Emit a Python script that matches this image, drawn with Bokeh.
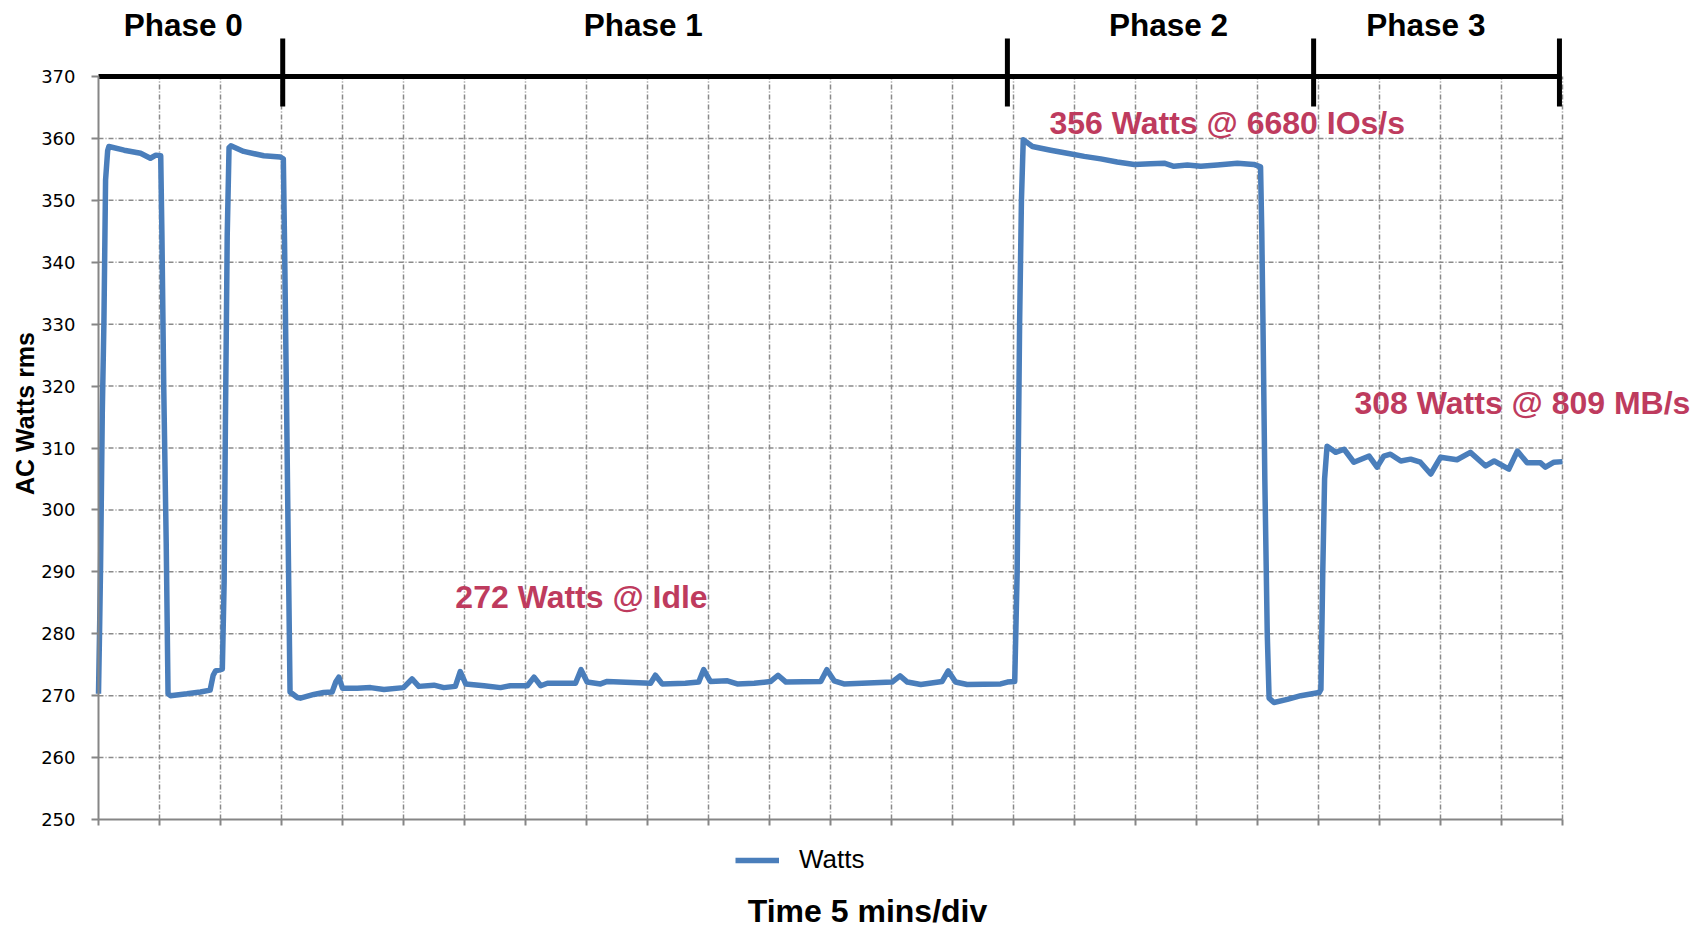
import math
from bokeh.plotting import figure
from bokeh.models import Range1d, FixedTicker, Label, Legend, LegendItem, LinearAxis
from bokeh.embed import file_html
from bokeh.resources import INLINE

# ---- data (x in 5-minute divisions, y in AC watts rms) ----
time_div = [
    0.0, 0.02, 0.034, 0.062, 0.089, 0.116, 0.15, 0.17, 0.42, 0.69, 0.85, 0.94, 1.02,
    1.04, 1.07, 1.11, 1.14, 1.18, 1.45, 1.67, 1.83, 1.88, 1.92, 2.03,
    2.06, 2.08, 2.11, 2.14, 2.17, 2.38, 2.71, 2.98, 3.03,
    3.05, 3.08, 3.11, 3.14, 3.26, 3.31, 3.53, 3.69, 3.83, 3.89, 3.94, 4.0, 4.24, 4.46,
    4.68, 5.0, 5.14, 5.25, 5.5, 5.66, 5.85, 5.93, 6.02, 6.32, 6.59, 6.75, 7.03, 7.14,
    7.25, 7.36, 7.82, 7.91, 8.01, 8.23, 8.34, 9.05, 9.13, 9.24, 9.62, 9.84, 9.92,
    10.03, 10.31, 10.47, 10.75, 11.02, 11.14, 11.27, 11.84, 11.94, 12.06, 12.22,
    13.01, 13.14, 13.26, 13.48, 13.83, 13.93, 14.05, 14.24, 14.79, 14.9, 15.02,
    15.06, 15.10, 15.13, 15.16, 15.31, 15.61, 15.88, 16.16, 16.43, 16.70, 16.98,
    17.25, 17.47, 17.63, 17.85, 18.07, 18.34, 18.67, 18.94, 19.05,
    19.07, 19.09, 19.12, 19.16, 19.19, 19.27, 19.49, 19.71, 20.01,
    20.04, 20.07, 20.10, 20.14, 20.28, 20.42, 20.58, 20.83, 20.96, 21.07, 21.18,
    21.35, 21.51, 21.67, 21.84, 22.0, 22.27, 22.49, 22.74, 22.88, 23.12, 23.26,
    23.42, 23.64, 23.72, 23.86, 24.0,
]
watts = [
    270.3, 282.0, 291.0, 315.6, 330.4, 353.3, 358.0, 358.7, 358.1, 357.6, 356.8, 357.3, 357.2,
    344.2, 319.5, 294.7, 270.3, 270.0, 270.3, 270.6, 270.9, 273.3, 274.0, 274.3,
    288.5, 313.3, 344.2, 358.5, 358.8, 357.9, 357.2, 357.0, 356.7,
    343.0, 319.5, 294.7, 270.6, 269.7, 269.6, 270.2, 270.5, 270.6, 272.2, 273.0, 271.2, 271.2, 271.3,
    271.0, 271.3, 272.7, 271.5, 271.7, 271.3, 271.5, 273.9, 271.9, 271.6, 271.3, 271.6, 271.6, 273.0,
    271.6, 272.0, 272.0, 274.2, 272.2, 271.9, 272.3, 272.0, 273.3, 271.9, 272.0, 272.2, 274.2,
    272.3, 272.4, 271.9, 272.0, 272.3, 273.3, 272.2, 272.3, 274.2, 272.4, 271.9,
    272.2, 273.2, 272.2, 271.8, 272.3, 274.0, 272.2, 271.8, 271.9, 272.2, 272.3,
    290.0, 330.0, 350.0, 359.8, 358.7, 358.1, 357.6, 357.1, 356.7, 356.2, 355.8,
    355.9, 356.0, 355.5, 355.7, 355.5, 355.7, 356.0, 355.8, 355.4,
    345.0, 330.0, 305.0, 280.0, 269.6, 268.9, 269.4, 270.0, 270.5,
    271.0, 290.0, 305.0, 310.3, 309.3, 309.8, 307.7, 308.7, 306.9, 308.7, 309.0,
    307.9, 308.2, 307.7, 305.8, 308.5, 308.1, 309.3, 307.1, 307.9, 306.6, 309.5,
    307.6, 307.6, 306.9, 307.7, 307.8,
]

y_ticks = [250, 260, 270, 280, 290, 300, 310, 320, 330, 340, 350, 360, 370]
x_divs = list(range(0, 25))
grid_divs = list(range(1, 25))
hgrid_vals = [260, 270, 280, 290, 300, 310, 320, 330, 340, 350, 360]

phase_names = ["Phase 0", "Phase 1", "Phase 2", "Phase 3"]
phase_centers = [1.39, 8.93, 17.54, 21.76]
phase_marks = [3.02, 14.9, 19.92, 23.95]

notes = ["356 Watts @ 6680 IOs/s", "272 Watts @ Idle", "308 Watts @ 809 MB/s"]
note_x = [15.59, 5.85, 20.59]

BLUE = "#4A7EBB"
RED = "#BE3B5E"
GRID = "#8a8a8a"
AXIS = "#868686"

# ---- layout: pixel geometry of the plotting area ----
W, H = 1700, 930
PX_X0, PX_PER_DIV = 98.0, 61.0          # x = 0 at 98 px, 61 px per division
PX_Y370, PX_PER_W = 76.0, 743.0 / 120   # y = 370 at 76 px


def xv(px):
    return (px - PX_X0) / PX_PER_DIV


def yv(py):
    return 370 - (py - PX_Y370) / PX_PER_W


p = figure(width=W, height=H, x_range=Range1d(xv(0), xv(W)), y_range=Range1d(yv(H), yv(0)),
           x_axis_type=None, y_axis_type=None, output_backend="svg", toolbar_location=None,
           min_border=0)
p.outline_line_color = None
p.background_fill_color = "white"
p.border_fill_color = "white"

# grids
p.segment(x0=[0] * len(hgrid_vals), y0=hgrid_vals, x1=[24] * len(hgrid_vals), y1=hgrid_vals,
          line_color=GRID, line_width=1.5, line_dash="5 2 1 2")
p.segment(x0=grid_divs, y0=[250] * len(grid_divs), x1=grid_divs, y1=[370] * len(grid_divs),
          line_color=GRID, line_width=1.5, line_dash="5 2 1 2")

# axes
yax = LinearAxis(fixed_location=0, ticker=FixedTicker(ticks=y_ticks), bounds=(250, 370))
yax.axis_line_color = AXIS
yax.axis_line_width = 2
yax.major_tick_line_color = AXIS
yax.major_tick_line_width = 2
yax.major_tick_out = 7
yax.major_tick_in = 0
yax.minor_tick_line_color = None
yax.major_label_standoff = 16
yax.major_label_text_font = "DejaVu Sans"
yax.major_label_text_font_size = "18px"
yax.major_label_text_color = "black"
p.add_layout(yax, "left")

xax = LinearAxis(fixed_location=250, ticker=FixedTicker(ticks=x_divs), bounds=(0, 24))
xax.axis_line_color = AXIS
xax.axis_line_width = 2
xax.major_tick_line_color = AXIS
xax.major_tick_line_width = 2
xax.major_tick_out = 6
xax.major_tick_in = 0
xax.minor_tick_line_color = None
xax.major_label_text_color = None
p.add_layout(xax, "below")

# data line
line_r = p.line(time_div, watts, line_color=BLUE, line_width=5.5, line_join="round")

# phase bar
p.segment(x0=[0], y0=[370], x1=[phase_marks[-1]], y1=[370], line_color="black", line_width=5)
p.segment(x0=phase_marks, y0=[yv(106)] * 4, x1=phase_marks, y1=[yv(38)] * 4,
          line_color="black", line_width=5)

for name, cx in zip(phase_names, phase_centers):
    p.add_layout(Label(x=cx, y=yv(24), text=name, text_align="center", text_baseline="middle",
                       text_font="Liberation Sans", text_font_style="bold",
                       text_font_size="31.5px", text_color="black"))

note_py = [122, 596, 402]
for t, nx, py in zip(notes, note_x, note_py):
    p.add_layout(Label(x=nx, y=yv(py), text=t, text_align="left", text_baseline="middle",
                       text_font="Liberation Sans", text_font_style="bold",
                       text_font_size="32px", text_color=RED))

# axis titles
p.add_layout(Label(x=xv(24.5), y=yv(413), text="AC Watts rms", angle=math.pi / 2,
                   text_align="center", text_baseline="middle", text_font="Liberation Sans",
                   text_font_style="bold", text_font_size="25px", text_color="black"))
p.add_layout(Label(x=xv(867), y=yv(910), text="Time 5 mins/div", text_align="center",
                   text_baseline="middle", text_font="Liberation Sans",
                   text_font_style="bold", text_font_size="32px", text_color="black"))

leg = Legend(items=[LegendItem(label="Watts", renderers=[line_r])], location=(735, 55),
             glyph_width=44, glyph_height=20, label_standoff=20, padding=0, margin=0,
             spacing=0, border_line_color=None, background_fill_alpha=0,
             label_text_font="Liberation Sans", label_text_font_size="26px",
             label_text_color="black")
p.add_layout(leg)

open("out.html", "w").write(file_html(p, INLINE))
